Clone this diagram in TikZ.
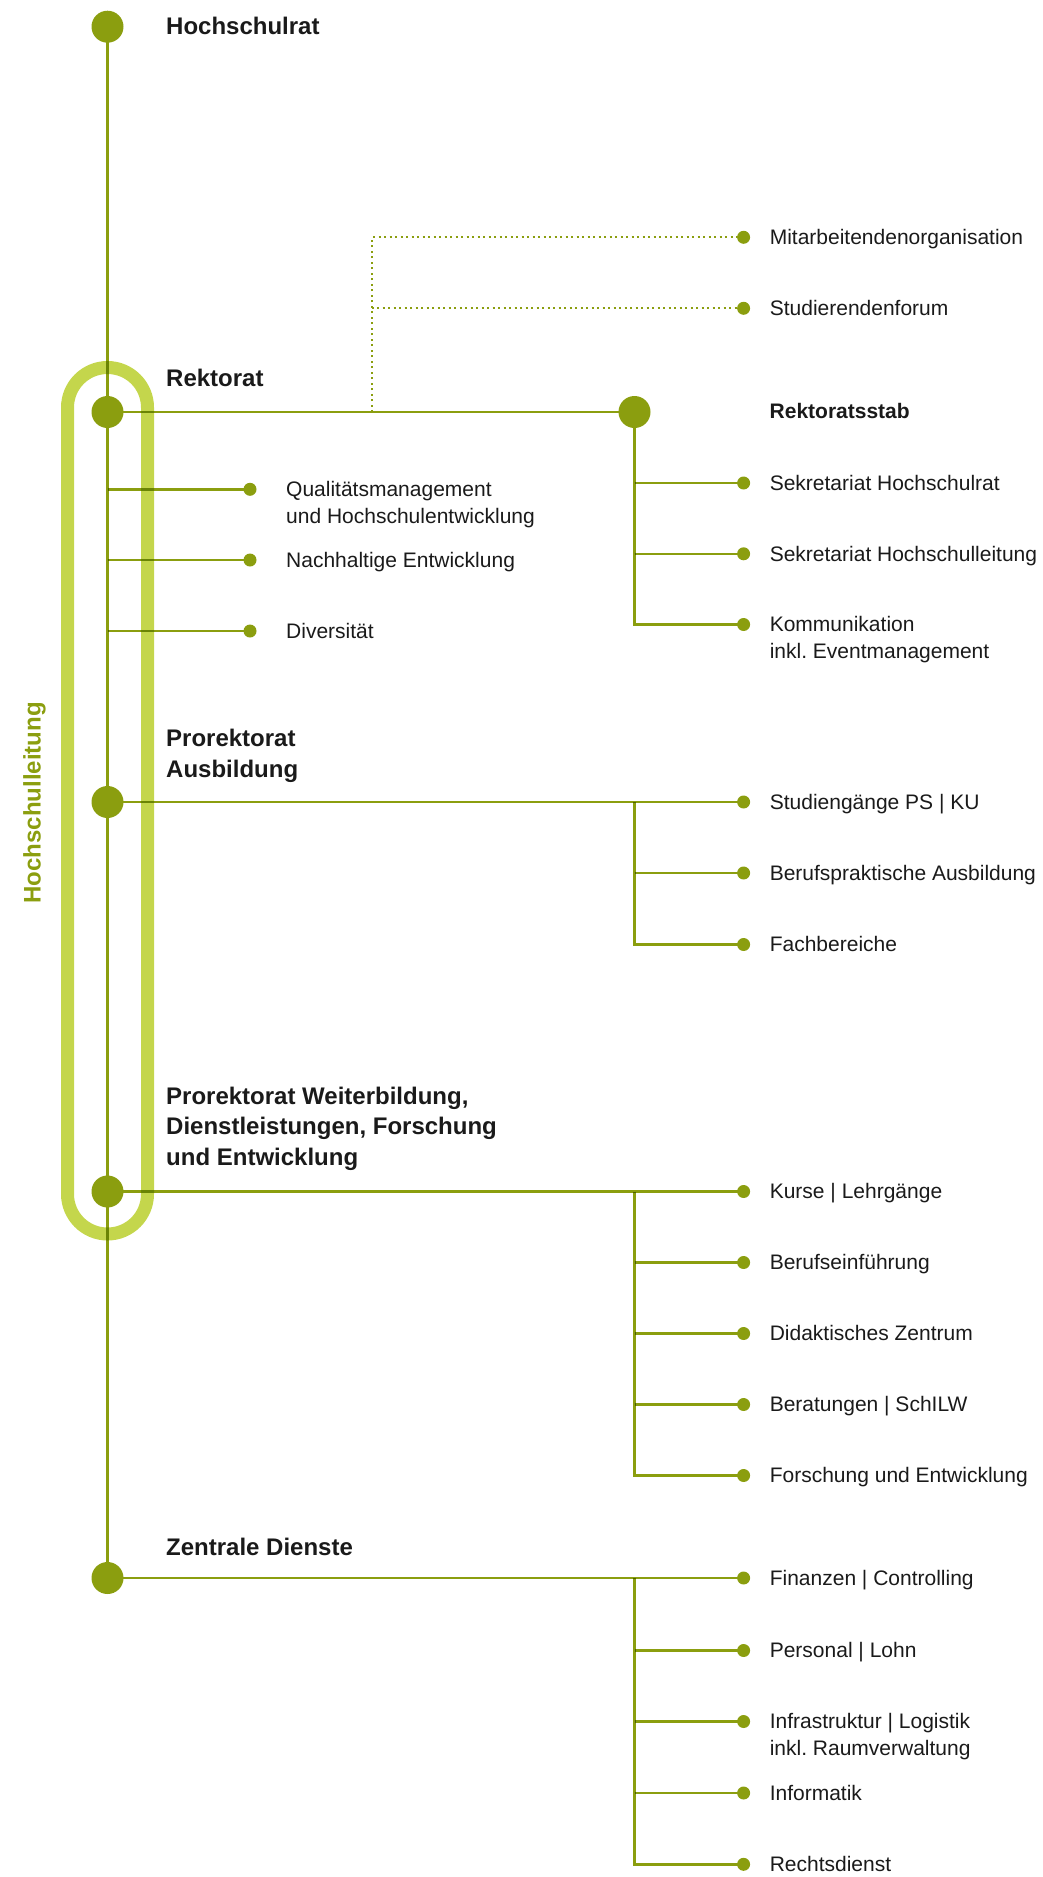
\documentclass[tikz,border=0pt]{standalone}
\usepackage{fontspec}
\setmainfont{Liberation Sans}
\frenchspacing
\definecolor{dg}{HTML}{8B9E0F}
\definecolor{lg}{HTML}{C4D64C}
\definecolor{tx}{HTML}{1A1A1A}
\pgfdeclarelayer{caps}
\pgfdeclarelayer{lines}
\pgfsetlayers{caps,lines,main}
\begin{document}
\begin{tikzpicture}[x=1pt,y=-1pt,
  bigdot/.style={circle,fill=dg,minimum size=32pt,inner sep=0pt},
  smalldot/.style={circle,fill=dg,minimum size=13pt,inner sep=0pt},
  ln/.style={draw=dg,line width=2.4pt},
  dotln/.style={draw=dg,line width=2pt,dash pattern=on 2pt off 3.5pt},
  head/.style={anchor=base west,font=\bfseries\fontsize{24}{30.5}\selectfont,text=tx,inner sep=0pt,align=left},
  lab/.style={anchor=base west,font=\fontsize{21}{26.7}\selectfont,text=tx,inner sep=0pt,align=left},
  rlab/.style={lab,at={([shift={(26,7.3)}]#1.center)}},
  rlabii/.style={lab,at={([shift={(26,34)}]#1.center)}},
  llab/.style={lab,at={([shift={(36,7.3)}]#1.center)}},
  llabii/.style={lab,at={([shift={(36,34)}]#1.center)}},
]
\useasboundingbox (0,0) rectangle (1043,1877);

% main circles
\node[bigdot] (hr) at (107.5,26.7) {};
\node[bigdot] (rk) at (107.5,412) {};
\node[bigdot] (pa) at (107.5,802) {};
\node[bigdot] (pw) at (107.5,1191.5) {};
\node[bigdot] (zd) at (107.5,1578) {};
\node[bigdot] (rs) at (634.5,412) {};

% headings (base anchor = baseline of last line)
\node[head] (thr) at (166,34) {Hochschulrat};
\node[head] (trk) at (166,386.7) {Rektorat};
\node[head] (tpa) at (166,777) {Prorektorat\\Ausbildung};
\node[head] (tpw) at (166,1165) {Prorektorat Weiterbildung,\\Dienstleistungen, Forschung\\und Entwicklung};
\node[head] (tzd) at (166,1555) {Zentrale Dienste};
\node[lab,font=\bfseries\fontsize{21}{26.7}\selectfont] (trs) at (769.5,418.5) {Rektoratsstab};
\node[rotate=90,anchor=base,font=\bfseries\fontsize{24}{30}\selectfont,text=dg,inner sep=0pt] (hl) at (40.7,803) {Hochschulleitung};

% left sub dots
\node[smalldot] (qm) at (250,489.3) {};
\node[smalldot] (na) at (250,560) {};
\node[smalldot] (di) at (250,631) {};
\node[llabii=qm] (tqm) {Qualitätsmanagement\\und Hochschulentwicklung};
\node[llab=na] (tna) {Nachhaltige Entwicklung};
\node[llab=di] (tdi) {Diversität};

% right sub dots
\node[smalldot] (mo) at (743.6,237.3) {};
\node[smalldot] (sf) at (743.6,308.3) {};
\node[smalldot] (shr) at (743.6,483) {};
\node[smalldot] (shl) at (743.6,553.8) {};
\node[smalldot] (kom) at (743.6,624.5) {};
\node[smalldot] (sg) at (743.6,802) {};
\node[smalldot] (bp) at (743.6,873) {};
\node[smalldot] (fb) at (743.6,944.5) {};
\node[smalldot] (ku) at (743.6,1191.5) {};
\node[smalldot] (be) at (743.6,1262.5) {};
\node[smalldot] (dz) at (743.6,1333.5) {};
\node[smalldot] (bs) at (743.6,1404.5) {};
\node[smalldot] (fe) at (743.6,1475.5) {};
\node[smalldot] (fi) at (743.6,1578) {};
\node[smalldot] (pl) at (743.6,1650.5) {};
\node[smalldot] (il) at (743.6,1721.5) {};
\node[smalldot] (inf) at (743.6,1793) {};
\node[smalldot] (re) at (743.6,1864.3) {};

\node[rlab=mo] (tmo) {Mitarbeitendenorganisation};
\node[rlab=sf] (tsf) {Studierendenforum};
\node[rlab=shr] (tshr) {Sekretariat Hochschulrat};
\node[rlab=shl] (tshl) {Sekretariat Hochschulleitung};
\node[rlabii=kom] (tkom) {Kommunikation\\inkl. Eventmanagement};
\node[rlab=sg] (tsg) {Studiengänge PS | KU};
\node[rlab=bp] (tbp) {Berufspraktische Ausbildung};
\node[rlab=fb] (tfb) {Fachbereiche};
\node[rlab=ku] (tku) {Kurse | Lehrgänge};
\node[rlab=be] (tbe) {Berufseinführung};
\node[rlab=dz] (tdz) {Didaktisches Zentrum};
\node[rlab=bs] (tbs) {Beratungen | SchILW};
\node[rlab=fe] (tfe) {Forschung und Entwicklung};
\node[rlab=fi] (tfi) {Finanzen | Controlling};
\node[rlab=pl] (tpl) {Personal | Lohn};
\node[rlabii=il] (til) {Infrastruktur | Logistik\\inkl. Raumverwaltung};
\node[rlab=inf] (tinf) {Informatik};
\node[rlab=re] (tre) {Rechtsdienst};

\coordinate (dx) at (371.7,412);

\begin{pgfonlayer}{caps}
\draw[lg,line width=13pt,rounded corners=40pt] (67.5,367.5) rectangle (147.5,1234);
\end{pgfonlayer}

\begin{pgfonlayer}{lines}
\begin{scope}[blend mode=multiply]
\draw[ln] (hr.center) -- (zd.center);
\draw[ln] (rk.center) -- (rs.center);
\draw[ln] (rk |- qm) -- (qm.center);
\draw[ln] (rk |- na) -- (na.center);
\draw[ln] (rk |- di) -- (di.center);
\draw[ln] (rs.center) |- (kom.center);
\draw[ln] (rs |- shr) -- (shr.center);
\draw[ln] (rs |- shl) -- (shl.center);
\draw[ln] (pa.center) -- (sg.center);
\draw[ln] (rs |- sg) |- (fb.center);
\draw[ln] (rs |- bp) -- (bp.center);
\draw[ln] (pw.center) -- (ku.center);
\draw[ln] (rs |- ku) |- (fe.center);
\draw[ln] (rs |- be) -- (be.center);
\draw[ln] (rs |- dz) -- (dz.center);
\draw[ln] (rs |- bs) -- (bs.center);
\draw[ln] (zd.center) -- (fi.center);
\draw[ln] (rs |- fi) |- (re.center);
\draw[ln] (rs |- pl) -- (pl.center);
\draw[ln] (rs |- il) -- (il.center);
\draw[ln] (rs |- inf) -- (inf.center);
\end{scope}
\draw[dotln] (dx) |- (mo.center);
\draw[dotln] (dx |- sf) -- (sf.center);
\end{pgfonlayer}
\end{tikzpicture}
\end{document}
